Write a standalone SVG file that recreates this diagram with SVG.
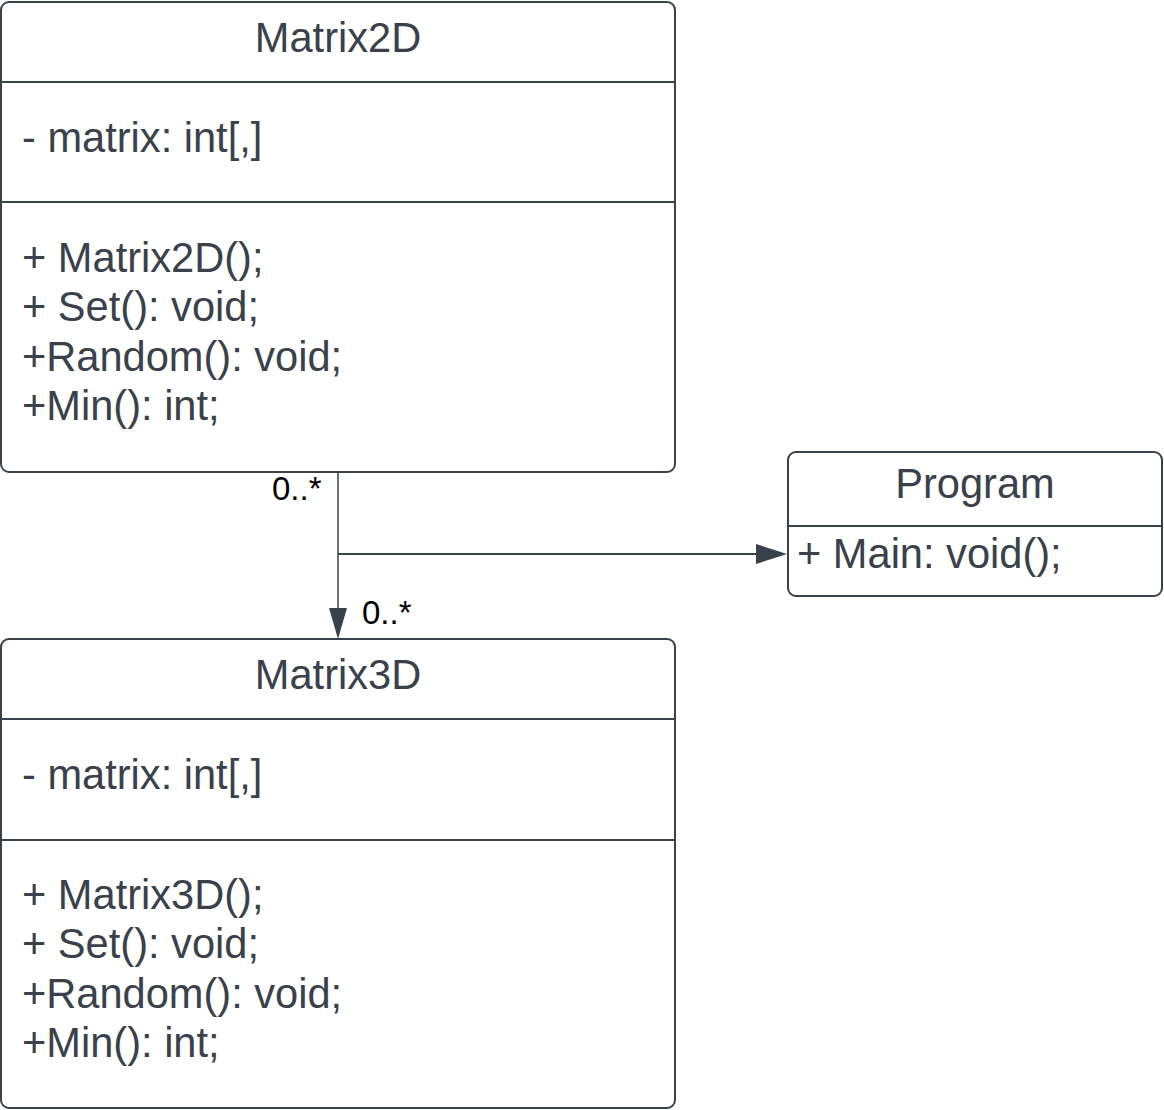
<svg xmlns="http://www.w3.org/2000/svg" width="1164" height="1110" viewBox="0 0 1164 1110">
<style>
.box{fill:#ffffff;stroke:#3a414a;stroke-width:2}
.sep{stroke:#3a414a;stroke-width:2}
.t{font-family:"Liberation Sans",Arial,sans-serif;font-size:41.6px;fill:#3a414a}
.c{text-anchor:middle}
.m{font-family:"Liberation Sans",Arial,sans-serif;font-size:33px;fill:#000000}
.ln{stroke:#3a414a;fill:none}
.ah{fill:#3a414a}
</style>
<rect width="1164" height="1110" fill="#ffffff"/>
<g id="Matrix2D">
<rect class="box" x="1" y="2" width="674" height="470" rx="8"/>
<line class="sep" x1="1" y1="82" x2="675" y2="82"/>
<line class="sep" x1="1" y1="202" x2="675" y2="202"/>
<text class="t c" x="338" y="52">Matrix2D</text>
<text class="t" x="22" y="152">- matrix: int[,]</text>
<text class="t" x="22" y="272">+ Matrix2D();</text>
<text class="t" x="22" y="321">+ Set(): void;</text>
<text class="t" x="22" y="371">+Random(): void;</text>
<text class="t" x="22" y="420">+Min(): int;</text>
</g>
<g id="Matrix3D">
<rect class="box" x="1" y="639" width="674" height="469" rx="8"/>
<line class="sep" x1="1" y1="719" x2="675" y2="719"/>
<line class="sep" x1="1" y1="840" x2="675" y2="840"/>
<text class="t c" x="338" y="689">Matrix3D</text>
<text class="t" x="22" y="789">- matrix: int[,]</text>
<text class="t" x="22" y="909">+ Matrix3D();</text>
<text class="t" x="22" y="958">+ Set(): void;</text>
<text class="t" x="22" y="1008">+Random(): void;</text>
<text class="t" x="22" y="1057">+Min(): int;</text>
</g>
<g id="Program">
<rect class="box" x="788" y="452" width="374" height="144" rx="8"/>
<line class="sep" x1="788" y1="526" x2="1162" y2="526"/>
<text class="t c" x="975" y="498">Program</text>
<text class="t" x="797" y="568">+ Main: void();</text>
</g>
<g id="connectors">
<path class="ln" stroke-width="1.5" d="M338 472 V610"/>
<polygon class="ah" points="329,608 347,608 338,639"/>
<path class="ln" stroke-width="2" d="M338 554 H758"/>
<polygon class="ah" points="756,544 756,564 787,554"/>
<text class="m" x="272" y="500">0..*</text>
<text class="m" x="362" y="624">0..*</text>
</g>
</svg>
